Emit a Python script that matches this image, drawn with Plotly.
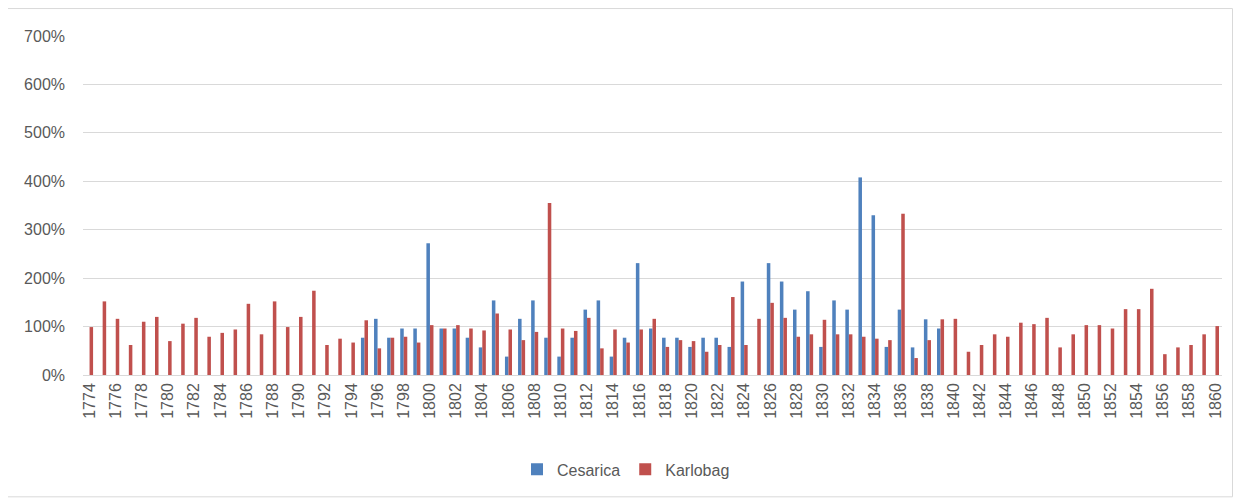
import plotly.graph_objects as go

years = [str(y) for y in range(1774, 1861)]

# Cesarica values (fraction, 1.0 = 100%), None where no bar
cesarica = {
    1795: 0.77, 1796: 1.16, 1797: 0.77, 1798: 0.96, 1799: 0.96, 1800: 2.72,
    1801: 0.96, 1802: 0.96, 1803: 0.77, 1804: 0.57, 1805: 1.54, 1806: 0.38,
    1807: 1.16, 1808: 1.54, 1809: 0.77, 1810: 0.38, 1811: 0.77, 1812: 1.35,
    1813: 1.54, 1814: 0.38, 1815: 0.77, 1816: 2.31, 1817: 0.96, 1818: 0.77,
    1819: 0.77, 1820: 0.58, 1821: 0.77, 1822: 0.77, 1823: 0.58, 1824: 1.93,
    1826: 2.31, 1827: 1.93, 1828: 1.35, 1829: 1.73, 1830: 0.58, 1831: 1.54,
    1832: 1.35, 1833: 4.08, 1834: 3.30, 1835: 0.58, 1836: 1.35, 1837: 0.57,
    1838: 1.15, 1839: 0.96,
}
cesarica_values = [cesarica.get(int(y)) for y in years]

karlobag_values = [
    0.99, 1.52, 1.16, 0.62, 1.10, 1.20, 0.70, 1.06, 1.18, 0.79,  # 1774-1783
    0.87, 0.94, 1.47, 0.84, 1.52, 0.99, 1.20, 1.74, 0.62, 0.75,  # 1784-1793
    0.67, 1.13, 0.55, 0.77, 0.79, 0.67, 1.03, 0.96, 1.03, 0.96,  # 1794-1803
    0.92, 1.27, 0.94, 0.72, 0.89, 3.55, 0.96, 0.91, 1.18, 0.55,  # 1804-1813
    0.94, 0.67, 0.94, 1.16, 0.58, 0.72, 0.70, 0.48, 0.62, 1.61,  # 1814-1823
    0.62, 1.16, 1.49, 1.18, 0.79, 0.84, 1.14, 0.84, 0.84, 0.79,  # 1824-1833
    0.75, 0.72, 3.33, 0.35, 0.72, 1.15, 1.16, 0.48, 0.62, 0.84,  # 1834-1843
    0.79, 1.08, 1.05, 1.18, 0.57, 0.84, 1.03, 1.03, 0.96, 1.36,  # 1844-1853
    1.36, 1.78, 0.43, 0.57, 0.62, 0.84, 1.01,                    # 1854-1860
]

tick_years = years[::2]
y_ticks = [0, 1, 2, 3, 4, 5, 6, 7]
y_labels = [f"{v*100:.0f}%" for v in y_ticks]

font = "Liberation Sans, Arial, sans-serif"
gray = "#595959"

fig = go.Figure()
fig.add_trace(go.Bar(name="Cesarica", x=years, y=cesarica_values,
                     marker=dict(color="#4F81BD", line=dict(width=0))))
fig.add_trace(go.Bar(name="Karlobag", x=years, y=karlobag_values,
                     marker=dict(color="#C0504D", line=dict(width=0))))

# page body has an 8px margin; figure occupies 8..1244 x 8..501 of the window
OFF = 8
W, H = 1244 - OFF, 501 - OFF
L, R, T, B = 83 - OFF, 22, 36 - OFF, 125.5
pw = W - L - R
ph = H - T - B

def px_to_paper_x(px):
    return (px - OFF - L) / pw

def px_to_paper_y(py):
    return (H - B - (py - OFF)) / ph

fig.update_layout(
    width=W, height=H,
    margin=dict(l=L, r=R, t=T, b=B, pad=0),
    paper_bgcolor="white", plot_bgcolor="white",
    barmode="group", bargap=0.46, bargroupgap=0.0,
    font=dict(family=font, color=gray, size=16),
    showlegend=True,
    legend=dict(orientation="h", x=px_to_paper_x(626), xanchor="center",
                y=px_to_paper_y(470), yanchor="middle",
                font=dict(size=16, color=gray),
                itemwidth=30, traceorder="normal"),
    xaxis=dict(type="category", tickmode="array", tickvals=tick_years,
               ticktext=tick_years, tickangle=-90, showgrid=False,
               showline=False, ticks="", ticklabelstandoff=4,
               tickfont=dict(size=16, color=gray)),
    yaxis=dict(range=[0, 7], tickvals=y_ticks, ticktext=y_labels,
               showgrid=True, gridcolor="#D9D9D9", gridwidth=1,
               zeroline=True, zerolinecolor="#D9D9D9", zerolinewidth=1,
               showline=False, ticks="", ticklabelstandoff=17,
               tickfont=dict(size=16, color=gray)),
    shapes=[dict(type="rect", xref="paper", yref="paper",
                 x0=px_to_paper_x(6.5), x1=px_to_paper_x(1232.5),
                 y0=px_to_paper_y(497.5), y1=px_to_paper_y(8.5),
                 line=dict(color="#D9D9D9", width=1), fillcolor="rgba(0,0,0,0)",
                 layer="below")],
)

fig.write_html("out.html")
